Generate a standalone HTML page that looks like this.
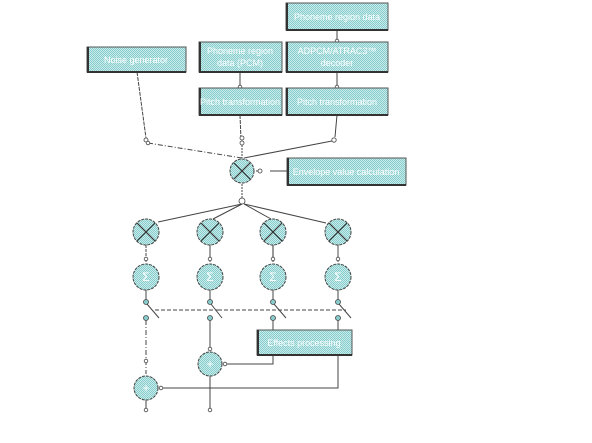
<!DOCTYPE html>
<html><head><style>
html,body{margin:0;padding:0;background:#fff;width:592px;height:443px;overflow:hidden}
svg text{font-family:"Liberation Sans",sans-serif;fill:#fff;font-size:9px}
</style></head><body>
<svg width="592" height="443" viewBox="0 0 592 443" xmlns="http://www.w3.org/2000/svg">
<defs>
<pattern id="d" width="2" height="2" patternUnits="userSpaceOnUse">
<rect width="2" height="2" fill="#c8ecec"/><rect width="1" height="1" fill="#88cccc"/><rect x="1" y="1" width="1" height="1" fill="#88cccc"/>
</pattern>
</defs>
<g stroke="#444" stroke-width="1" fill="none">
<line x1="337" y1="30" x2="337" y2="42"/>
<line x1="337" y1="72" x2="337" y2="88"/>
<line x1="240" y1="72" x2="240" y2="88"/>
<line x1="137" y1="72" x2="146" y2="138" stroke-dasharray="4,1"/>
<line x1="240" y1="115" x2="241" y2="140" stroke-dasharray="4,1"/>
<line x1="337" y1="115" x2="335" y2="137"/>
<line x1="148" y1="143" x2="242" y2="158" stroke-dasharray="5,2,1,2"/>
<line x1="242" y1="145" x2="242" y2="158" stroke-dasharray="2,1"/>
<line x1="332" y1="141" x2="244" y2="158"/>
<line x1="256" y1="171" x2="260" y2="171" /><line x1="270" y1="171" x2="287" y2="171"/>
<line x1="242" y1="184" x2="242" y2="198" stroke-dasharray="2,1"/>
<line x1="242" y1="204" x2="158" y2="222"/>
<line x1="242" y1="204" x2="213" y2="219"/>
<line x1="244" y1="204" x2="271" y2="219"/>
<line x1="244" y1="204" x2="326" y2="223"/>
<line x1="146" y1="245" x2="146" y2="262" stroke-dasharray="3,1"/>
<line x1="210" y1="245" x2="210" y2="262"/>
<line x1="273" y1="245" x2="273" y2="262" stroke="#777" stroke-width="1.5"/>
<line x1="338" y1="245" x2="338" y2="262" stroke="#888" stroke-width="1.5"/>
<line x1="146" y1="290" x2="146" y2="301"/><line x1="210" y1="290" x2="210" y2="301"/>
<line x1="273" y1="290" x2="273" y2="301"/><line x1="338" y1="290" x2="338" y2="301"/>
<line x1="147" y1="304" x2="159" y2="318"/><line x1="211" y1="304" x2="222" y2="318"/>
<line x1="274" y1="304" x2="286" y2="318"/><line x1="339" y1="304" x2="351" y2="318"/>
<line x1="155" y1="310" x2="218" y2="310" stroke-dasharray="4,2"/>
<line x1="218" y1="310" x2="282" y2="310" stroke-dasharray="4,2"/>
<line x1="284" y1="310" x2="346" y2="310" stroke-dasharray="4,2"/>
<line x1="146" y1="320" x2="146" y2="374" stroke-dasharray="5,2,1,2"/>
<line x1="210" y1="320" x2="210" y2="350"/>
<line x1="273" y1="320" x2="273" y2="330"/>
<line x1="338" y1="320" x2="338" y2="330"/>
<polyline points="273,355 273,364 224,364"/>
<polyline points="338,355 338,388 160,388"/>
<line x1="210" y1="376" x2="210" y2="410"/>
<line x1="146" y1="400" x2="146" y2="410"/>
</g>
<g fill="#fff" stroke="#444" stroke-width="0.8">
<circle cx="337" cy="41" r="1.8"/><circle cx="337" cy="87" r="1.8"/><circle cx="240" cy="87" r="1.8"/>
<circle cx="146" cy="140" r="2"/><circle cx="148" cy="143" r="1.8"/>
<circle cx="242" cy="138" r="2"/><circle cx="242" cy="143" r="2"/>
<circle cx="334" cy="140" r="2.2"/>
<circle cx="260" cy="171" r="2"/>
<circle cx="242" cy="201" r="3"/>
<circle cx="146" cy="259" r="1.8"/><circle cx="210" cy="259" r="1.8"/><circle cx="273" cy="259" r="1.8"/><circle cx="338" cy="259" r="1.8"/>
<circle cx="146" cy="361" r="1.8"/><circle cx="210" cy="349" r="1.8"/><circle cx="225" cy="364" r="1.8"/><circle cx="161" cy="388" r="1.8"/>
<circle cx="146" cy="410" r="1.8"/><circle cx="210" cy="410" r="1.8"/>
</g>
<g fill="#88cccc" stroke="#444" stroke-width="0.8">
<circle cx="146" cy="302" r="2.5"/><circle cx="210" cy="302" r="2.5"/><circle cx="273" cy="302" r="2.5"/><circle cx="338" cy="302" r="2.5"/>
<circle cx="146" cy="318" r="2.5"/><circle cx="210" cy="318" r="2.5"/><circle cx="273" cy="318" r="2.5"/><circle cx="338" cy="318" r="2.5"/>
</g>
<g fill="url(#d)" stroke="#555" stroke-width="1">
<rect x="286" y="3" width="102" height="27"/>
<rect x="286" y="42" width="102" height="30"/>
<rect x="286" y="88" width="102" height="27"/>
<rect x="199" y="42" width="83" height="30"/>
<rect x="199" y="88" width="83" height="27"/>
<rect x="87" y="47" width="99" height="25"/>
<rect x="287" y="158" width="119" height="27"/>
<rect x="257" y="330" width="95" height="25"/>
</g>
<g stroke="#333" stroke-width="2" fill="none">
<polyline points="287,3 287,30 388,30"/><polyline points="287,42 287,72 388,72"/><polyline points="287,88 287,115 388,115"/>
<polyline points="200,42 200,72 282,72"/><polyline points="200,88 200,115 282,115"/><polyline points="88,47 88,72 186,72"/>
<polyline points="288,158 288,185 406,185"/><polyline points="258,330 258,355 352,355"/>
</g>
<g fill="url(#d)" stroke="#444" stroke-width="1" stroke-dasharray="3,1">
<circle cx="242" cy="171" r="12"/>
<circle cx="146" cy="232" r="13"/><circle cx="210" cy="232" r="13"/><circle cx="273" cy="232" r="13"/><circle cx="338" cy="232" r="13"/>
<circle cx="146" cy="277" r="13"/><circle cx="210" cy="277" r="13"/><circle cx="273" cy="277" r="13"/><circle cx="338" cy="277" r="13"/>
<circle cx="210" cy="364" r="12"/><circle cx="146" cy="388" r="12"/>
</g>
<g stroke="#333" stroke-width="1.2">
<line x1="234" y1="163" x2="250" y2="179"/><line x1="250" y1="163" x2="234" y2="179"/>
<line x1="137" y1="223" x2="155" y2="241"/><line x1="155" y1="223" x2="137" y2="241"/>
<line x1="201" y1="223" x2="219" y2="241"/><line x1="219" y1="223" x2="201" y2="241"/>
<line x1="264" y1="223" x2="282" y2="241"/><line x1="282" y1="223" x2="264" y2="241"/>
<line x1="329" y1="223" x2="347" y2="241"/><line x1="347" y1="223" x2="329" y2="241"/>
</g>
<g text-anchor="middle">
<text x="146" y="281" style="font-size:12px">Σ</text><text x="210" y="281" style="font-size:12px">Σ</text><text x="273" y="281" style="font-size:12px">Σ</text><text x="338" y="281" style="font-size:12px">Σ</text>
<text x="210" y="368" style="font-size:12px">+</text><text x="146" y="392" style="font-size:12px">+</text>
</g>
<g text-anchor="middle">
<text x="337" y="20">Phoneme region data</text>
<text x="337" y="54">ADPCM/ATRAC3™</text><text x="337" y="66">decoder</text>
<text x="337" y="105">Pitch transformation</text>
<text x="240" y="54">Phoneme region</text><text x="240" y="66">data (PCM)</text>
<text x="240" y="105">Pitch transformation</text>
<text x="136" y="63">Noise generator</text>
<text x="346" y="175">Envelope value calculation</text>
<text x="304" y="346">Effects processing</text>
</g>
</svg>
</body></html>
